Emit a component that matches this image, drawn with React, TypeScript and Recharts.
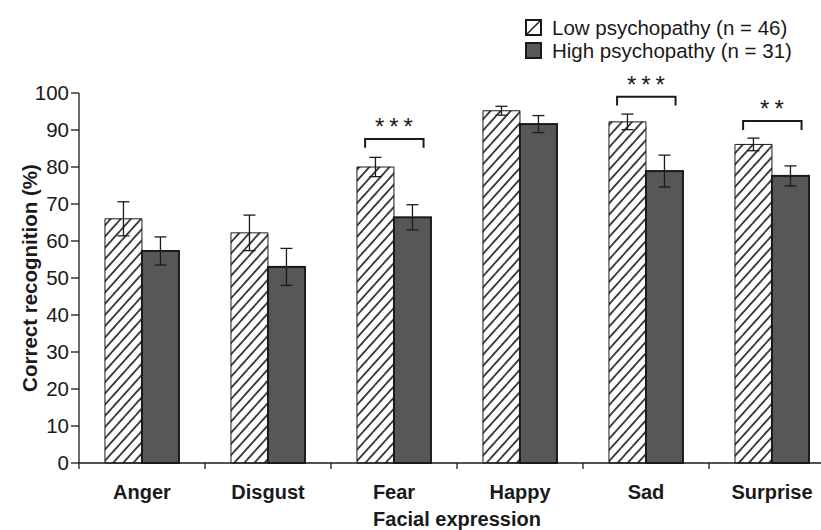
import React from 'react';
import { BarChart, Bar, XAxis, YAxis, ErrorBar } from 'recharts';

const categories = ['Anger', 'Disgust', 'Fear', 'Happy', 'Sad', 'Surprise'];
const lowMeans = [66, 62.2, 80, 95.2, 92.2, 86.1];
const lowErrors = [4.6, 4.8, 2.6, 1.2, 2.1, 1.7];
const highMeans = [57.3, 53, 66.4, 91.6, 78.9, 77.6];
const highErrors = [3.8, 5, 3.4, 2.3, 4.3, 2.7];
const sigStars = ['', '', '***', '', '***', '**'];
const bracketLevels = [0, 0, 87.6, 0, 99, 92.4];
const yTicks = [0, 10, 20, 30, 40, 50, 60, 70, 80, 90, 100];
const seriesNames = ['Low psychopathy (n = 46)', 'High psychopathy (n = 31)'];

const data = categories.map((name, i) => ({
  name,
  low: lowMeans[i],
  lowErr: lowErrors[i],
  high: highMeans[i],
  highErr: highErrors[i],
}));

const FONT = '"Liberation Sans", Arial, Helvetica, sans-serif';
const INK = '#1a1a1a';
const DARK = '#575757';
const X_TICK_SIZE = 6;
const X_TICK_MARGIN = 16;

// x tick marks sit on the category boundaries, labels in the middle
const CategoryTick = (props: any) => {
  const { x, y, payload } = props;
  const half = payload.offset ?? 0;
  const axisY = y - X_TICK_MARGIN - X_TICK_SIZE;
  return (
    <g>
      <line x1={x - half} x2={x - half} y1={axisY} y2={axisY + X_TICK_SIZE} stroke={INK} strokeWidth={1.3} />
      <text x={x} y={y} dy="0.71em" textAnchor="middle" fill={INK} fontFamily={FONT} fontSize={20} fontWeight="bold">
        {payload.value}
      </text>
    </g>
  );
};

// high bar + significance bracket spanning the pair
const HighBarShape = (props: any) => {
  const { x, y, width, height, index, payload } = props;
  const stars = sigStars[index];
  let bracket = null;
  if (stars) {
    const unit = height / payload.high;
    const zero = y + height;
    const by = zero - bracketLevels[index] * unit;
    const leg = 2.4 * unit;
    const x1 = x - width * 0.78;
    const x2 = x + width * 0.8;
    bracket = (
      <g>
        <path d={`M${x1},${by + leg} L${x1},${by} L${x2},${by} L${x2},${by + leg}`} fill="none" stroke={INK} strokeWidth={2} />
        <text x={x + 2.5} y={by - 4} textAnchor="middle" fill={INK} fontFamily={FONT} fontSize={24} letterSpacing={5}>
          {stars}
        </text>
      </g>
    );
  }
  return (
    <g>
      <rect x={x} y={y} width={width} height={height} fill={DARK} stroke={INK} strokeWidth={2} />
      {bracket}
    </g>
  );
};

const LegendBox = () => (
  <div style={{ position: 'absolute', left: 525, top: 16, fontFamily: FONT, fontSize: 20.5, color: INK }}>
    {seriesNames.map((name, i) => (
      <div key={name} style={{ display: 'flex', alignItems: 'center', height: 23, whiteSpace: 'nowrap' }}>
        <svg width={17} height={17} style={{ marginRight: 10 }}>
          {i === 0 ? (
            <g>
              <rect x={1} y={1} width={15} height={15} fill="#fff" stroke={INK} strokeWidth={2} />
              <line x1={1} y1={16} x2={16} y2={1} stroke={INK} strokeWidth={1.5} />
            </g>
          ) : (
            <rect x={1} y={1} width={15} height={15} fill={DARK} stroke={INK} strokeWidth={2} />
          )}
        </svg>
        <span>{name}</span>
      </div>
    ))}
  </div>
);

export default function App() {
  return (
    <div style={{ position: 'absolute', left: 0, top: 0, width: 821, height: 530, overflow: 'hidden', background: '#fff' }}>
      <BarChart
        width={850}
        height={530}
        data={data}
        margin={{ top: 93, right: 15, left: 0, bottom: 0 }}
        barCategoryGap="20.6%"
        barGap={0}
      >
        <defs>
          <pattern id="hatch" patternUnits="userSpaceOnUse" width="7.5" height="7.5" patternTransform="rotate(42)">
            <rect width="7.5" height="7.5" fill="#fff" />
            <line x1="3.75" y1="0" x2="3.75" y2="7.5" stroke={INK} strokeWidth="1.6" />
          </pattern>
        </defs>
        <YAxis
          domain={[0, 100]}
          ticks={yTicks}
          interval={0}
          width={79}
          tickSize={8}
          tickMargin={2}
          axisLine={{ stroke: INK, strokeWidth: 1.3 }}
          tickLine={{ stroke: INK, strokeWidth: 1.3 }}
          tick={{ fill: INK, fontSize: 20.5, fontFamily: FONT }}
          label={{
            value: 'Correct recognition (%)',
            angle: -90,
            position: 'insideLeft',
            offset: 30,
            style: { textAnchor: 'middle', fontWeight: 'bold', fontSize: 20.5, fill: INK, fontFamily: FONT },
          }}
        />
        <XAxis
          dataKey="name"
          height={67}
          interval={0}
          tickSize={X_TICK_SIZE}
          tickMargin={X_TICK_MARGIN}
          tickLine={false}
          axisLine={{ stroke: INK, strokeWidth: 1.3 }}
          tick={<CategoryTick />}
          label={{
            value: 'Facial expression',
            position: 'insideBottom',
            offset: 4,
            style: { fontWeight: 'bold', fontSize: 20, fill: INK, fontFamily: FONT },
          }}
        />
        <Bar dataKey="low" name={seriesNames[0]} fill="url(#hatch)" stroke={INK} strokeWidth={1} isAnimationActive={false}>
          <ErrorBar dataKey="lowErr" width={6} stroke={INK} strokeWidth={1.3} />
        </Bar>
        <Bar dataKey="high" name={seriesNames[1]} fill={DARK} shape={<HighBarShape />} isAnimationActive={false}>
          <ErrorBar dataKey="highErr" width={6} stroke={INK} strokeWidth={1.3} />
        </Bar>
      </BarChart>
      <LegendBox />
    </div>
  );
}
